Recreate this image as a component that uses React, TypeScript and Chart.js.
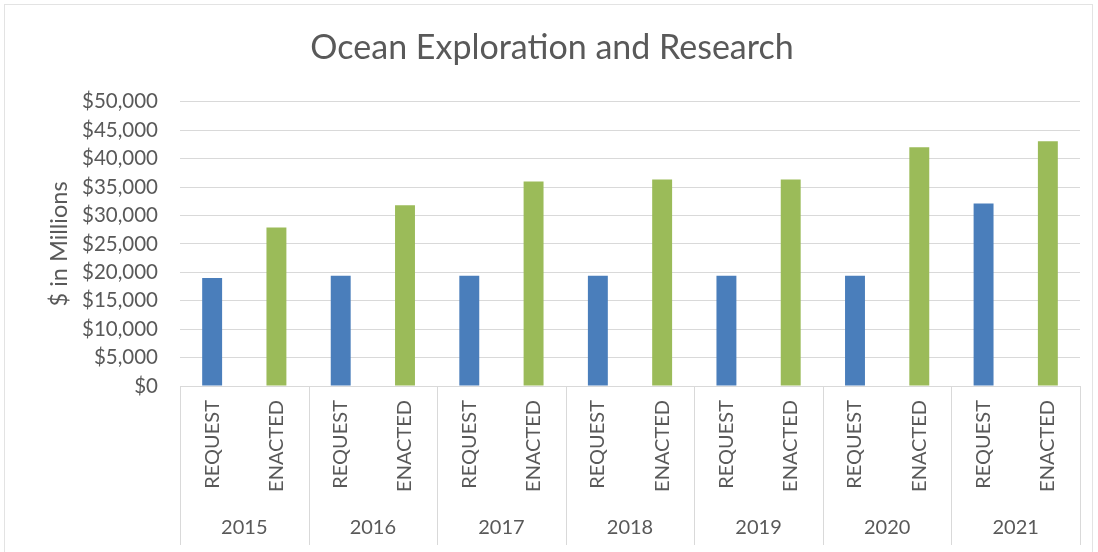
import React, { useEffect, useRef } from "react";
import { Chart, registerables } from "chart.js";

Chart.register(...registerables);

const years = ["2015", "2016", "2017", "2018", "2019", "2020", "2021"];
const subLabels = ["REQUEST", "ENACTED"];
const requestValues = [19000, 19400, 19400, 19400, 19400, 19400, 32100];
const enactedValues = [27900, 31800, 36000, 36350, 36350, 42000, 43050];
const yTicksMax = 50000;
const yTickStep = 5000;

const BLUE = "#4a7ebb";
const GREEN = "#9bbb59";
const TEXT = "#595959";
const GRID = "#d9d9d9";
const FONT = "Lato, 'Open Sans', sans-serif";

const categoryLabels: string[] = [];
const barValues: number[] = [];
const barColors: string[] = [];
years.forEach((_, i) => {
  categoryLabels.push(subLabels[0], subLabels[1]);
  barValues.push(requestValues[i], enactedValues[i]);
  barColors.push(BLUE, GREEN);
});

const separatorPlugin = {
  id: "yearSeparators",
  beforeDraw(chart: any) {
    const ctx = chart.ctx;
    ctx.save();
    ctx.strokeStyle = "#e3e3e3";
    ctx.lineWidth = 1;
    ctx.strokeRect(4.5, 4.5, 1088, 600);
    ctx.restore();
  },
  afterDraw(chart: any) {
    const x2 = chart.scales.x2;
    const area = chart.chartArea;
    const ctx = chart.ctx;
    const n = years.length;
    const slot = (x2.right - x2.left) / n;
    ctx.save();
    ctx.strokeStyle = GRID;
    ctx.lineWidth = 1;
    for (let i = 0; i <= n; i++) {
      const x = Math.round(x2.getPixelForValue(Math.min(i, n - 1)) + (i === n ? slot / 2 : -slot / 2)) + 0.5;
      ctx.beginPath();
      ctx.moveTo(x, area.bottom);
      ctx.lineTo(x, x2.bottom - 3);
      ctx.stroke();
    }
    ctx.restore();
  },
};

export default function App() {
  const ref = useRef<HTMLCanvasElement>(null);
  useEffect(() => {
    if (!ref.current) return;
    const chart = new Chart(ref.current, {
      type: "bar",
      data: {
        labels: categoryLabels,
        datasets: [
          {
            data: barValues,
            backgroundColor: barColors,
            barPercentage: 0.31,
            categoryPercentage: 1,
            xAxisID: "x",
            yAxisID: "y",
          },
        ],
      },
      options: {
        animation: false,
        responsive: false,
        layout: { padding: { left: 24, right: 18, top: 0, bottom: 4 } },
        plugins: {
          legend: { display: false },
          tooltip: { enabled: false },
          title: {
            display: true,
            text: "Ocean Exploration and Research",
            color: TEXT,
            font: { family: FONT, size: 34, weight: "normal" },
            padding: { top: 28, bottom: 33 },
          },
        },
        scales: {
          x: {
            type: "category",
            position: "bottom",
            grid: { display: false, drawTicks: false },
            border: { display: true, color: GRID },
            ticks: {
              color: TEXT,
              font: { family: FONT, size: 20 },
              maxRotation: 90,
              minRotation: 90,
              padding: 14,
              autoSkip: false,
            },
            afterFit(scale: any) {
              scale.height = 122;
            },
          },
          x2: {
            type: "category",
            position: "bottom",
            labels: years,
            offset: true,
            grid: { display: false, drawTicks: false },
            border: { display: false },
            ticks: {
              color: TEXT,
              font: { family: FONT, size: 20 },
              padding: 8,
            },
            afterFit(scale: any) {
              scale.height = 40;
            },
          },
          y: {
            min: 0,
            max: yTicksMax,
            grid: { color: GRID, drawTicks: false },
            border: { display: false },
            ticks: {
              stepSize: yTickStep,
              color: TEXT,
              padding: 22,
              font: { family: FONT, size: 20.5 },
              callback: (v: any) => "$" + Number(v).toLocaleString("en-US"),
            },
            title: {
              display: true,
              text: "$ in Millions",
              color: TEXT,
              font: { family: FONT, size: 23.5 },
              padding: { top: 21, bottom: 0 },
            },
            afterFit(scale: any) {
              scale.width = 156;
            },
          },
        },
      },
      plugins: [separatorPlugin],
    });
    return () => chart.destroy();
  }, []);
  return (
    <div style={{ position: "absolute", left: 0, top: 0, width: 1098, height: 552, background: "#fff" }}>
      <canvas ref={ref} width={1098} height={552} />
    </div>
  );
}
